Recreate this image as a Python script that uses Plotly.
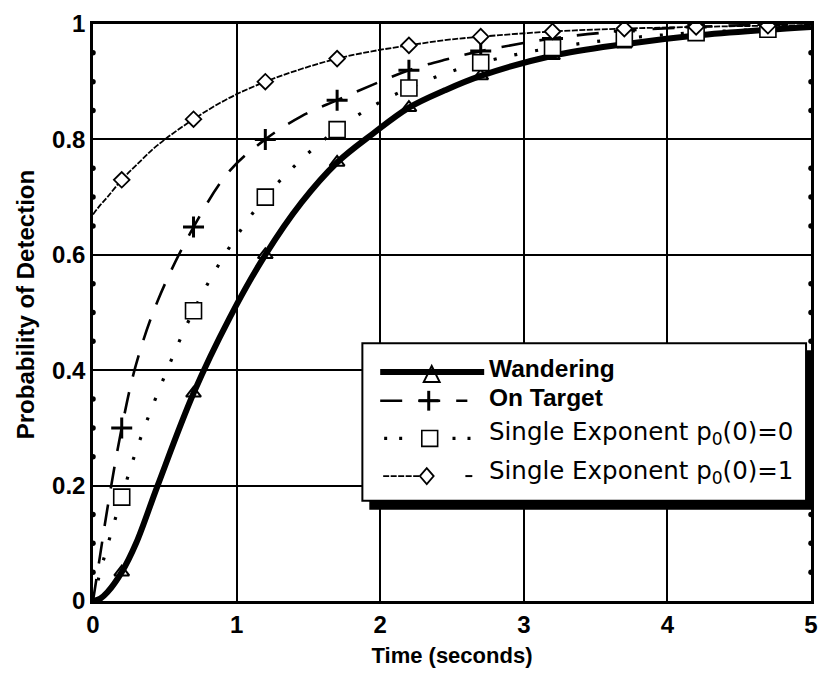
import plotly.graph_objects as go

# Time samples (seconds) and detection probability for each model
T = [0, 0.05, 0.1, 0.2, 0.3, 0.45, 0.7, 0.95, 1.2, 1.45, 1.7, 1.95,
     2.2, 2.45, 2.7, 3.2, 3.7, 4.2, 4.7, 5.0]
wandering = [0, 0.004, 0.015, 0.05, 0.1, 0.2, 0.36, 0.49, 0.6, 0.69, 0.76, 0.81,
             0.855, 0.885, 0.91, 0.945, 0.965, 0.98, 0.99, 0.995]
on_target = [0, 0.08, 0.16, 0.30, 0.41, 0.52, 0.648, 0.745, 0.80, 0.84, 0.868, 0.895,
             0.92, 0.938, 0.953, 0.975, 0.988, 0.995, 0.999, 1.0]
single_p0 = [0, 0.05, 0.095, 0.18, 0.26, 0.36, 0.503, 0.613, 0.70, 0.765, 0.817, 0.858,
             0.889, 0.914, 0.933, 0.959, 0.975, 0.985, 0.991, 0.993]
single_p1 = [0.67, 0.686, 0.70, 0.73, 0.755, 0.79, 0.835, 0.872, 0.90, 0.922, 0.94, 0.953,
             0.963, 0.972, 0.978, 0.987, 0.992, 0.995, 0.997, 0.998]

# Times at which the series symbols are placed
marker_t = [0.2, 0.7, 1.2, 1.7, 2.2, 2.7, 3.2, 3.7, 4.2, 4.7]

x_ticks = [0, 1, 2, 3, 4, 5]
y_ticks = [0, 0.2, 0.4, 0.6, 0.8, 1]
y_tick_text = ["0", "0.2", "0.4", "0.6", "0.8", "1"]
y_minor_ticks = [0.05, 0.1, 0.15, 0.25, 0.3, 0.35, 0.45, 0.5, 0.55,
                 0.65, 0.7, 0.75, 0.85, 0.9, 0.95]

key_labels = ["Wandering", "On Target",
              "Single Exponent p<sub>0</sub>(0)=0",
              "Single Exponent p<sub>0</sub>(0)=1"]

FONT = "Liberation Sans, Arial, Helvetica, sans-serif"
WIDE_FONT = "DejaVu Sans, Verdana, sans-serif"


def at_markers(values):
    idx = [T.index(t) for t in marker_t]
    return [T[i] for i in idx], [values[i] for i in idx]


fig = go.Figure()

# Wandering: open triangles sit underneath the heavy curve
mx, my = at_markers(wandering)
fig.add_trace(go.Scatter(x=mx, y=my, mode="markers", showlegend=False,
                         marker=dict(symbol="triangle-up", size=13, color="white",
                                     line=dict(color="black", width=2))))
fig.add_trace(go.Scatter(x=T, y=wandering, mode="lines", showlegend=False,
                         line=dict(color="black", width=6, shape="spline")))
fig.add_trace(go.Scatter(x=T, y=on_target, mode="lines", showlegend=False,
                         line=dict(color="black", width=2.6, dash="22px,16px", shape="spline")))
fig.add_trace(go.Scatter(x=T, y=single_p0, mode="lines", showlegend=False,
                         line=dict(color="black", width=3.2, dash="3px,18px", shape="spline")))
fig.add_trace(go.Scatter(x=T, y=single_p1, mode="lines", showlegend=False,
                         line=dict(color="black", width=1.8, dash="6px,1.5px", shape="spline")))

mx, my = at_markers(on_target)
fig.add_trace(go.Scatter(x=mx, y=my, mode="markers", showlegend=False,
                         marker=dict(symbol="cross-thin", size=15,
                                     line=dict(color="black", width=3))))
mx, my = at_markers(single_p0)
fig.add_trace(go.Scatter(x=mx, y=my, mode="markers", showlegend=False,
                         marker=dict(symbol="square", size=16, color="white",
                                     line=dict(color="black", width=1.6))))
mx, my = at_markers(single_p1)
fig.add_trace(go.Scatter(x=mx, y=my, mode="markers", showlegend=False,
                         marker=dict(symbol="diamond", size=12, color="white",
                                     line=dict(color="black", width=1.8))))

# Small dot ticks on the left and right frame edges
for edge in (0, 5):
    fig.add_trace(go.Scatter(x=[edge] * len(y_minor_ticks), y=y_minor_ticks, mode="markers",
                             showlegend=False, hoverinfo="skip", cliponaxis=False,
                             marker=dict(symbol="circle", size=5.5, color="black")))

# ---- hand-built key box with drop shadow (pixel positions -> paper fractions)
PL, PR, PT, PB = 93, 818, 19, 601


def fx(px):
    return (px - PL) / (PR - PL)


def fy(py):
    return (PB - py) / (PB - PT)


def pth(points):
    return "M " + " L ".join(f"{fx(a)},{fy(b)}" for a, b in points) + " Z"


shapes = [
    dict(type="rect", xref="paper", yref="paper", x0=fx(372), x1=fx(821), y0=fy(509), y1=fy(348),
         fillcolor="black", line=dict(width=0)),
    dict(type="rect", xref="paper", yref="paper", x0=fx(365), x1=fx(813), y0=fy(500), y1=fy(341),
         fillcolor="white", line=dict(color="black", width=2)),
]


def seg(x0, x1, y, width, dash="solid"):
    return dict(type="line", xref="paper", yref="paper", x0=fx(x0), x1=fx(x1), y0=fy(y), y1=fy(y),
                line=dict(color="black", width=width, dash=dash))


# Wandering key
shapes.append(dict(type="path", xref="paper", yref="paper",
                   path=pth([(427, 380), (443, 380), (435, 364)]),
                   fillcolor="white", line=dict(color="black", width=2)))
shapes.append(seg(383, 488, 370, 6))
# On Target key
shapes.append(seg(383, 471, 399, 2.6, "22px,16px"))
shapes.append(seg(422, 442, 399, 3))
shapes.append(dict(type="line", xref="paper", yref="paper", x0=fx(432), x1=fx(432),
                   y0=fy(389), y1=fy(409), line=dict(color="black", width=3)))
# Single exponent p0(0)=0 key
shapes.append(seg(387, 408, 437, 3.2, "3px,12px"))
shapes.append(seg(456, 477, 437, 3.2, "3px,12px"))
shapes.append(dict(type="path", xref="paper", yref="paper",
                   path=pth([(425, 429), (441, 429), (441, 445), (425, 445)]),
                   fillcolor="white", line=dict(color="black", width=1.6)))
# Single exponent p0(0)=1 key
shapes.append(seg(386, 424, 475, 1.8, "6px,1.5px"))
shapes.append(seg(469, 476, 475, 2))
shapes.append(dict(type="path", xref="paper", yref="paper",
                   path=pth([(423, 475), (430, 467), (437, 475), (430, 483)]),
                   fillcolor="white", line=dict(color="black", width=1.8)))

for s in shapes:
    s["layer"] = "above"

annotations = []
rows = [366, 396, 432, 471]
for i, (label, py) in enumerate(zip(key_labels, rows)):
    if i < 2:
        text, font = f"<b>{label}</b>", dict(family=FONT, size=24.5, color="black")
    else:
        text, font = label, dict(family=WIDE_FONT, size=24.5, color="black")
    annotations.append(dict(xref="paper", yref="paper", x=fx(491), y=fy(py),
                            xanchor="left", yanchor="middle", showarrow=False,
                            text=text, font=font))

# vertical axis title
annotations.append(dict(xref="paper", yref="paper", x=fx(25), y=fy(302),
                        xanchor="center", yanchor="middle", showarrow=False, textangle=-90,
                        text="<b>Probability of Detection</b>",
                        font=dict(family=FONT, size=24, color="black")))

axis_common = dict(showgrid=True, gridcolor="black", gridwidth=1.6,
                   showline=True, linecolor="black", linewidth=2.5, mirror=True,
                   zeroline=False, ticks="",
                   tickfont=dict(family=FONT, size=24, color="black", weight="bold"))

fig.update_layout(
    width=828, height=688,
    margin=dict(l=PL, r=828 - PR, t=PT, b=688 - PB),
    paper_bgcolor="white", plot_bgcolor="white",
    showlegend=False,
    shapes=shapes, annotations=annotations,
    xaxis=dict(range=[0, 5], tickvals=x_ticks, **axis_common,
               title=dict(text="<b>Time (seconds)</b>",
                          font=dict(family=FONT, size=22, color="black"), standoff=12)),
    yaxis=dict(range=[0, 1], tickvals=y_ticks, ticktext=y_tick_text, **axis_common),
)

fig.write_html("out.html")
